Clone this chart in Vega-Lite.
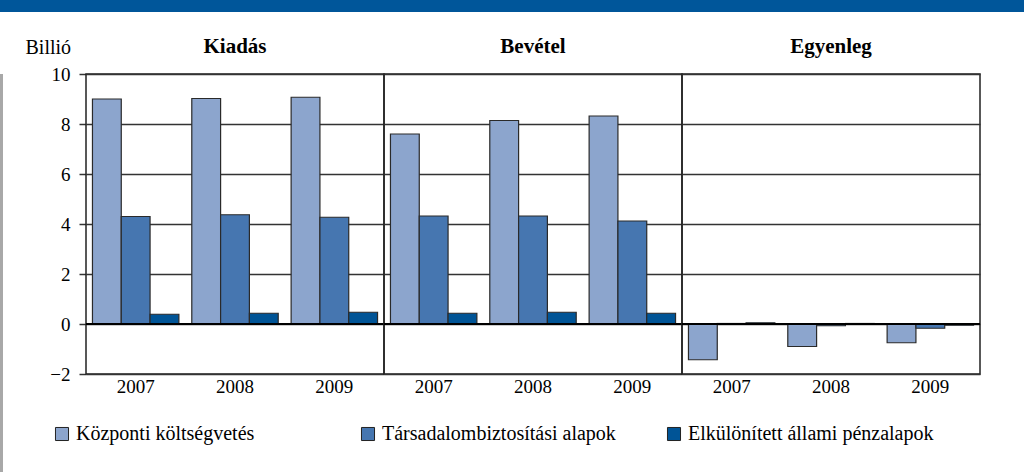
{
  "$schema": "https://vega.github.io/schema/vega-lite/v6.json",
  "padding": 0,
  "background": "white",
  "config": {"font": "Liberation Serif", "view": {"stroke": null}},
  "spacing": 24,
  "vconcat": [
    {
      "width": 1024, "height": 12,
      "view": {"fill": "#00569A", "stroke": null},
      "data": {"values": [{}]},
      "mark": {"type": "text", "text": ""},
      "encoding": {}
    },
    {
      "spacing": 22,
      "resolve": {"scale": {"color": "independent"}, "legend": {"color": "independent"}},
      "hconcat": [
        {
          "width": 3, "height": 400,
          "view": {"fill": "#A8A8A8", "stroke": null},
          "data": {"values": [{}]},
          "mark": {"type": "text", "text": ""},
          "encoding": {}
        },
        {
          "data": {"values": [
            {"section": "Kiadás", "year": "2007", "series": "Központi költségvetés", "value": 9.0},
            {"section": "Kiadás", "year": "2007", "series": "Társadalombiztosítási alapok", "value": 4.3},
            {"section": "Kiadás", "year": "2007", "series": "Elkülönített állami pénzalapok", "value": 0.39},
            {"section": "Kiadás", "year": "2008", "series": "Központi költségvetés", "value": 9.02},
            {"section": "Kiadás", "year": "2008", "series": "Társadalombiztosítási alapok", "value": 4.37},
            {"section": "Kiadás", "year": "2008", "series": "Elkülönített állami pénzalapok", "value": 0.43},
            {"section": "Kiadás", "year": "2009", "series": "Központi költségvetés", "value": 9.07},
            {"section": "Kiadás", "year": "2009", "series": "Társadalombiztosítási alapok", "value": 4.27},
            {"section": "Kiadás", "year": "2009", "series": "Elkülönített állami pénzalapok", "value": 0.47},
            {"section": "Bevétel", "year": "2007", "series": "Központi költségvetés", "value": 7.6},
            {"section": "Bevétel", "year": "2007", "series": "Társadalombiztosítási alapok", "value": 4.32},
            {"section": "Bevétel", "year": "2007", "series": "Elkülönített állami pénzalapok", "value": 0.43},
            {"section": "Bevétel", "year": "2008", "series": "Központi költségvetés", "value": 8.14},
            {"section": "Bevétel", "year": "2008", "series": "Társadalombiztosítási alapok", "value": 4.32},
            {"section": "Bevétel", "year": "2008", "series": "Elkülönített állami pénzalapok", "value": 0.47},
            {"section": "Bevétel", "year": "2009", "series": "Központi költségvetés", "value": 8.32},
            {"section": "Bevétel", "year": "2009", "series": "Társadalombiztosítási alapok", "value": 4.12},
            {"section": "Bevétel", "year": "2009", "series": "Elkülönített állami pénzalapok", "value": 0.43},
            {"section": "Egyenleg", "year": "2007", "series": "Központi költségvetés", "value": -1.43},
            {"section": "Egyenleg", "year": "2007", "series": "Társadalombiztosítási alapok", "value": 0.02},
            {"section": "Egyenleg", "year": "2007", "series": "Elkülönített állami pénzalapok", "value": 0.05},
            {"section": "Egyenleg", "year": "2008", "series": "Központi költségvetés", "value": -0.9},
            {"section": "Egyenleg", "year": "2008", "series": "Társadalombiztosítási alapok", "value": -0.07},
            {"section": "Egyenleg", "year": "2008", "series": "Elkülönített állami pénzalapok", "value": 0.02},
            {"section": "Egyenleg", "year": "2009", "series": "Központi költségvetés", "value": -0.75},
            {"section": "Egyenleg", "year": "2009", "series": "Társadalombiztosítási alapok", "value": -0.17},
            {"section": "Egyenleg", "year": "2009", "series": "Elkülönített állami pénzalapok", "value": -0.05}
          ]},
          "facet": {
            "column": {
              "field": "section", "type": "nominal",
              "sort": ["Kiadás", "Bevétel", "Egyenleg"],
              "title": null,
              "header": {"labelFontSize": 21, "labelFontWeight": "bold", "labelFont": "Liberation Serif", "labelColor": "black", "labelPadding": 17}
            }
          },
          "spacing": 0,
          "bounds": "flush",
          "spec": {
            "width": 298, "height": 300,
            "view": {"stroke": "#222", "strokeWidth": 1.5},
            "layer": [
              {
                "mark": {"type": "bar", "stroke": "#2a2a2a", "strokeWidth": 1.2},
                "encoding": {
                  "x": {"field": "year", "type": "nominal",
                        "scale": {"paddingInner": 0.13, "paddingOuter": 0.065},
                        "axis": {"title": null, "labelAngle": 0, "ticks": false, "domain": false, "labelFont": "Liberation Serif", "labelFontSize": 19, "labelColor": "black", "labelPadding": 3}},
                  "xOffset": {"field": "series", "type": "nominal", "sort": ["Központi költségvetés", "Társadalombiztosítási alapok", "Elkülönített állami pénzalapok"]},
                  "y": {"field": "value", "type": "quantitative",
                        "scale": {"domain": [-2, 10], "nice": false},
                        "axis": {"title": "Billió", "titleAngle": 0, "titleAlign": "left", "titleBaseline": "middle", "titleX": -61, "titleY": -27,
                                 "titleFont": "Liberation Serif", "titleFontSize": 20, "titleFontWeight": "normal", "titleColor": "black",
                                 "values": [-2, 0, 2, 4, 6, 8, 10], "grid": true, "gridColor": "#333", "gridWidth": 1.5,
                                 "domain": false, "tickColor": "#333", "tickSize": 7, "tickWidth": 1.5,
                                 "labelFont": "Liberation Serif", "labelFontSize": 19, "labelColor": "black", "labelPadding": 9}},
                  "color": {"field": "series", "type": "nominal",
                            "scale": {"domain": ["Központi költségvetés", "Társadalombiztosítási alapok", "Elkülönített állami pénzalapok"],
                                      "range": ["#8CA5CD", "#4676B0", "#005496"]},
                            "legend": {"title": null, "orient": "none", "legendX": -34, "legendY": 350, "direction": "horizontal", "columns": 3, "gridAlign": "all",
                                       "symbolType": "square", "symbolSize": 170,
                                       "symbolStrokeColor": "#222", "symbolStrokeWidth": 1, "symbolOpacity": 1,
                                       "labelFont": "Liberation Serif", "labelFontSize": 20, "labelColor": "black",
                                       "labelLimit": 0, "columnPadding": 36, "labelOffset": 4}}
                }
              },
              {
                "mark": {"type": "rule", "color": "black", "strokeWidth": 2},
                "encoding": {"y": {"datum": 0}}
              }
            ]
          }
        }
      ]
    }
  ]
}
